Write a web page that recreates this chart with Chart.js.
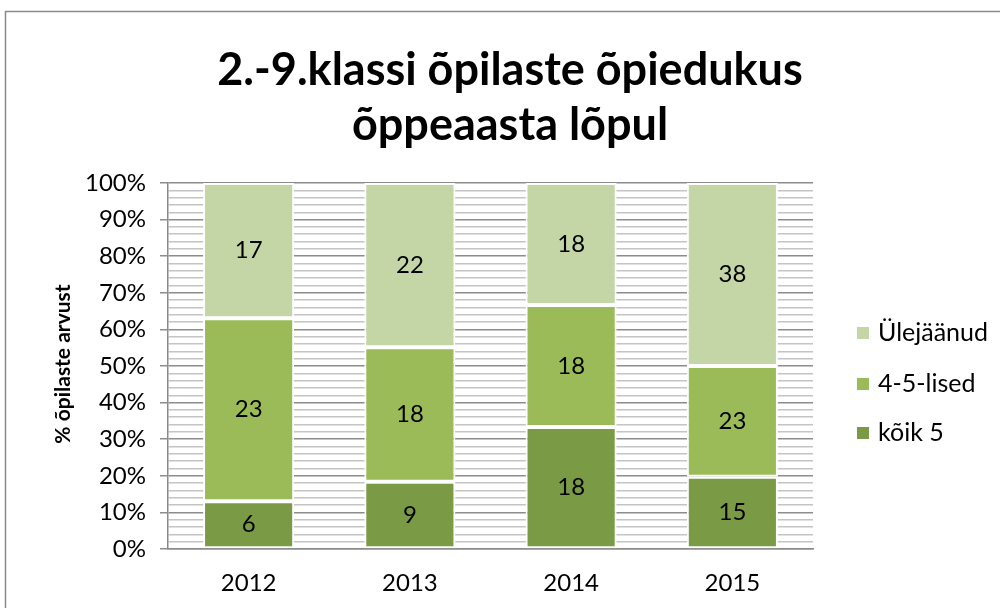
<!DOCTYPE html>
<html>
<head>
<meta charset="utf-8">
<script src="https://cdn.jsdelivr.net/npm/chart.js@4.4.0/dist/chart.umd.min.js"></script>
<style>
    html, body { margin: 0; padding: 0; background: #fff; }
    #wrap { width: 1000px; height: 608px; position: relative; }
</style>
</head>
<body>
<div id="wrap"><canvas id="chart" width="1000" height="608"></canvas></div>
<script>
// Data (counts per year)
const years = ['2012', '2013', '2014', '2015'];
const koik5 = [6, 9, 18, 15];
const lised45 = [23, 18, 18, 23];
const ylejaanud = [17, 22, 18, 38];

const titleLines = ['2.-9.klassi õpilaste õpiedukus', 'õppeaasta lõpul'];
const yTitle = '% õpilaste arvust';

const FONT = 'Lato, "Open Sans", sans-serif';

// stacked 100% -> share of each year's total
const totals = years.map((_, i) => koik5[i] + lised45[i] + ylejaanud[i]);
const toPct = arr => arr.map((v, i) => v / totals[i] * 100);

const series = [
    { label: 'kõik 5', counts: koik5, color: '#7A9A46' },
    { label: '4-5-lised', counts: lised45, color: '#9BBB59' },
    { label: 'Ülejäänud', counts: ylejaanud, color: '#C5D6A6' }
];

// frame + titles + legend + value labels
const extras = {
    id: 'extras',
    beforeDraw(chart) {
        const ctx = chart.ctx;
        ctx.save();
        ctx.fillStyle = '#fff';
        ctx.fillRect(0, 0, chart.width, chart.height);
        ctx.strokeStyle = '#8a8a8a';
        ctx.lineWidth = 1.5;
        ctx.strokeRect(5.5, 11.5, 1200, 800);
        ctx.restore();
    },
    afterDatasetsDraw(chart) {
        const ctx = chart.ctx;
        ctx.save();
        ctx.fillStyle = '#000';
        ctx.font = '24px ' + FONT;
        ctx.textAlign = 'center';
        ctx.textBaseline = 'middle';
        chart.data.datasets.forEach((ds, di) => {
            chart.getDatasetMeta(di).data.forEach((bar, i) => {
                const p = bar.getProps(['x', 'y', 'base'], true);
                ctx.fillText(String(series[di].counts[i]), p.x, (p.y + p.base) / 2);
            });
        });
        ctx.restore();
    },
    afterDraw(chart) {
        const ctx = chart.ctx;
        ctx.save();
        // title
        ctx.fillStyle = '#000';
        ctx.font = 'bold 45px ' + FONT;
        ctx.textAlign = 'center';
        ctx.textBaseline = 'middle';
        ctx.fillText(titleLines[0], 510, 70);
        ctx.fillText(titleLines[1], 510, 125);
        // y axis title
        ctx.save();
        ctx.translate(63, 364);
        ctx.rotate(-Math.PI / 2);
        ctx.font = 'bold 21px ' + FONT;
        ctx.fillText(yTitle, 0, 0);
        ctx.restore();
        // legend, reversed order
        ctx.font = '25px ' + FONT;
        ctx.textAlign = 'left';
        const rows = [333, 384, 433];
        chart.data.datasets.slice().reverse().forEach((ds, k) => {
            ctx.fillStyle = ds.backgroundColor;
            ctx.fillRect(857, rows[k] - 6, 12, 12);
            ctx.fillStyle = '#000';
            ctx.fillText(ds.label, 878, rows[k]);
        });
        ctx.restore();
    }
};

new Chart(document.getElementById('chart'), {
    type: 'bar',
    data: {
        labels: years,
        datasets: series.map(s => ({
            label: s.label,
            data: toPct(s.counts),
            backgroundColor: s.color,
            borderColor: '#ffffff',
            borderWidth: 2,
            borderSkipped: false,
            categoryPercentage: 1,
            barPercentage: 0.565
        }))
    },
    options: {
        responsive: false,
        animation: false,
        layout: { padding: { top: 183, right: 187, left: 0, bottom: 0 } },
        plugins: {
            legend: { display: false },
            title: { display: false },
            tooltip: { enabled: false }
        },
        scales: {
            x: {
                stacked: true,
                grid: { display: false, drawTicks: false },
                border: { display: true, color: '#8a8a8a', width: 1.5 },
                ticks: { color: '#000', font: { family: FONT, size: 24 }, padding: 20 },
                afterFit(scale) { scale.height = 59; }
            },
            y: {
                stacked: true,
                min: 0,
                max: 100,
                border: { display: true, color: '#8a8a8a', width: 1.5 },
                grid: {
                    color: c => (c.tick && c.tick.value % 10 === 0) ? '#8c8c8c' : '#c4c4c4',
                    tickColor: c => (c.tick && c.tick.value % 10 === 0) ? '#8c8c8c' : 'rgba(0,0,0,0)',
                    lineWidth: 1.5,
                    tickLength: 8
                },
                ticks: {
                    stepSize: 2,
                    autoSkip: false,
                    padding: 14,
                    color: '#000',
                    font: { family: FONT, size: 24 },
                    callback: v => v % 10 === 0 ? v + '%' : ''
                },
                afterFit(scale) { scale.width = 168; }
            }
        }
    },
    plugins: [extras]
});
</script>
</body>
</html>
